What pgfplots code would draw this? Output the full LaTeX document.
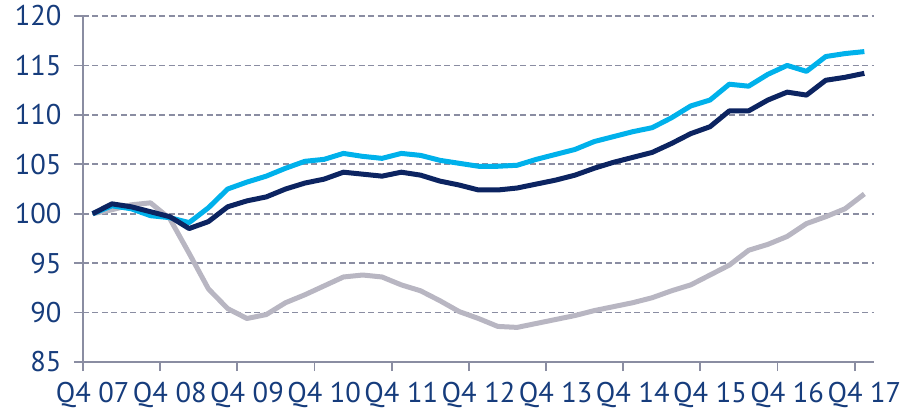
\documentclass[border=0pt]{standalone}
\usepackage{pgfplots}
\pgfplotsset{compat=1.18}
\usepackage{fontspec}
\setmainfont{PT Sans}
\definecolor{lblue}{HTML}{00B1EB}
\definecolor{navy}{HTML}{0C2461}
\definecolor{lgrey}{HTML}{B8B6C2}
\definecolor{axgrey}{HTML}{8A8DA2}
\definecolor{lab}{HTML}{163C7C}
\pgfplotstableread{
i lb nv gr
0 100.0 100.0 100.0
1 100.8 101.0 100.4
2 100.5 100.7 100.9
3 99.8 100.2 101.1
4 99.6 99.7 99.5
5 99.1 98.5 96.0
6 100.6 99.2 92.4
7 102.5 100.7 90.4
8 103.2 101.3 89.4
9 103.8 101.7 89.8
10 104.6 102.5 91.0
11 105.3 103.1 91.8
12 105.5 103.5 92.7
13 106.1 104.2 93.6
14 105.8 104.0 93.8
15 105.6 103.8 93.6
16 106.1 104.2 92.8
17 105.9 103.9 92.2
18 105.4 103.3 91.2
19 105.1 102.9 90.1
20 104.8 102.4 89.4
21 104.8 102.4 88.6
22 104.9 102.6 88.5
23 105.5 103.0 88.9
24 106.0 103.4 89.3
25 106.5 103.9 89.7
26 107.3 104.6 90.2
27 107.8 105.2 90.6
28 108.3 105.7 91.0
29 108.7 106.2 91.5
30 109.7 107.1 92.2
31 110.9 108.1 92.8
32 111.5 108.8 93.8
33 113.1 110.4 94.8
34 112.9 110.4 96.3
35 114.1 111.5 96.9
36 115.0 112.3 97.7
37 114.4 112.0 99.0
38 115.9 113.5 99.7
39 116.2 113.8 100.5
40 116.4 114.2 102.0
}\data
\begin{document}
\begin{tikzpicture}
\begin{axis}[
  at={(0,0)}, anchor=south west,
  width=791pt, height=346pt, scale only axis,
  xmin=-0.5, xmax=40.5, ymin=85, ymax=120,
  ytick={85,90,...,120},
  xtick={-0.5,3.5,...,39.5},
  xticklabels={Q4 07,Q4 08,Q4 09,Q4 10,Q4 11,Q4 12,Q4 13,Q4 14,Q4 15,Q4 16,Q4 17},
  xticklabel style={xshift=9.65pt, anchor=north, yshift=-8pt},
  yticklabel style={anchor=east, xshift=-9pt},
  axis x line*=bottom, axis y line*=left,
  axis line style={draw=axgrey, line width=1.8pt, -},
  tick align=outside, major tick length=9pt,
  tick style={draw=axgrey, line width=1.8pt},
  ymajorgrids, grid style={draw=axgrey, line width=1.8pt, dash pattern=on 6pt off 3.5pt},
  tick label style={font=\fontsize{28.5}{28.5}\selectfont, text=lab},
  /pgf/number format/assume math mode=true,
  line join=round,
]
\addplot[lgrey, line width=5pt] table[x=i, y=gr] {\data};
\addplot[lblue, line width=5pt] table[x=i, y=lb] {\data};
\addplot[navy, line width=5pt] table[x=i, y=nv] {\data};
\end{axis}
\pgfresetboundingbox
\path[use as bounding box] (-83pt,-48pt) rectangle (819pt,362pt);
\end{tikzpicture}
\end{document}
